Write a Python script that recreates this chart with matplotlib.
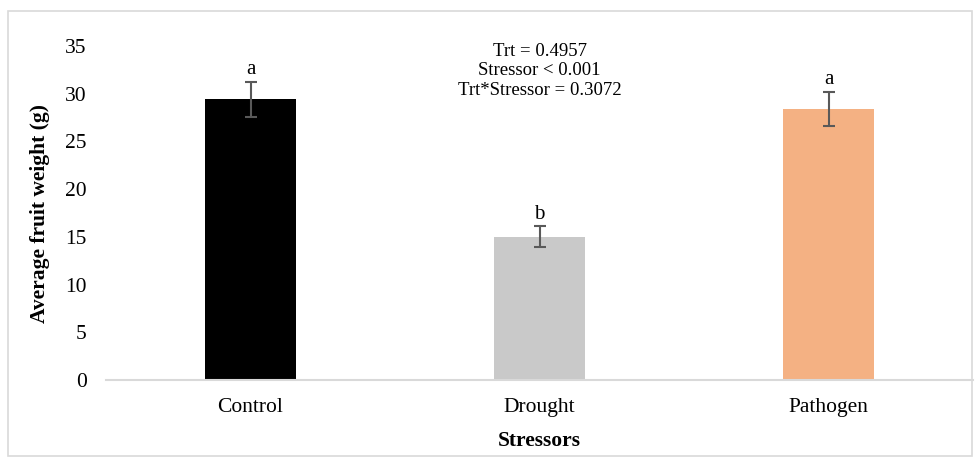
import matplotlib.pyplot as plt
from matplotlib.patches import Rectangle

categories = ["Control", "Drought", "Pathogen"]
means = [29.4, 15.0, 28.4]
errors = [1.8, 1.1, 1.75]
letters = ["a", "b", "a"]
colors = ["#000000", "#c9c9c9", "#f4b183"]
yticks = [0, 5, 10, 15, 20, 25, 30, 35]
stats_text = "Trt = 0.4957\nStressor < 0.001\nTrt*Stressor = 0.3072"

plt.rcParams['font.family'] = ['Liberation Serif', 'DejaVu Serif']

fig = plt.figure(figsize=(9.78, 4.58), dpi=100)
ax = fig.add_axes([0.1084, 0.170, 0.8866, 0.7296])

x = list(range(len(categories)))
ax.bar(x, means, width=0.315, color=colors, zorder=2)
ax.errorbar(x, means, yerr=errors, fmt='none', ecolor='#595959',
            elinewidth=1.5, capsize=4.5, capthick=1.5, zorder=3)
for xi, m, e, l in zip(x, means, errors, letters):
    ax.text(xi, m + e + 0.3, l, ha='center', va='bottom', fontsize=15)

ax.text(1, 32.4, stats_text, ha='center', va='center', fontsize=13.5,
        linespacing=1.2)

ax.set_xlim(-0.5, 2.5)
ax.set_ylim(0, 35)
ax.set_yticks(yticks)
ax.set_xticks(x)
ax.set_xticklabels(categories)
ax.tick_params(axis='both', length=0, labelsize=15.5)
ax.tick_params(axis='y', pad=14)
ax.tick_params(axis='x', pad=13)
for s in ['top', 'right', 'left']:
    ax.spines[s].set_visible(False)
ax.spines['bottom'].set_color('#d9d9d9')
ax.spines['bottom'].set_linewidth(1.5)

ax.set_xlabel("Stressors", fontsize=15.5, fontweight='bold', labelpad=10)
ax.set_ylabel("Average fruit weight (g)", fontsize=15.5, fontweight='bold', labelpad=11)

fig.patches.append(Rectangle((0.008, 0.005), 0.986, 0.972, transform=fig.transFigure,
                             fill=False, edgecolor='#d9d9d9', linewidth=1.2))

fig.savefig("out.png", dpi=100)
